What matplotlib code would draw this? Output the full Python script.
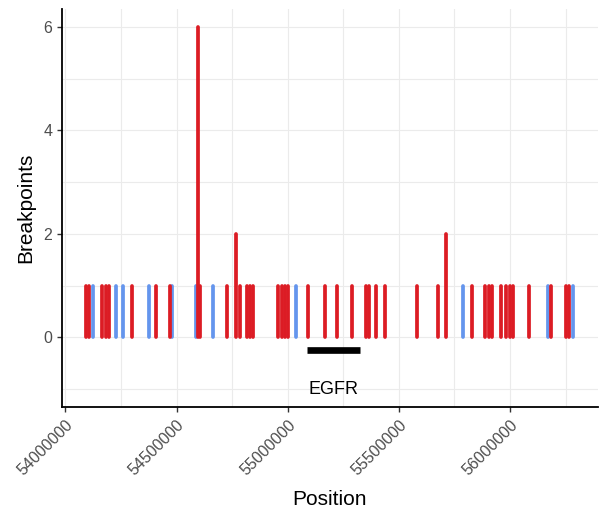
import matplotlib
matplotlib.use('Agg')
import matplotlib.pyplot as plt
from matplotlib.ticker import MultipleLocator

plt.rcParams['font.family'] = ['Liberation Sans', 'DejaVu Sans']

# breakpoint positions on chr7 and number of breakpoints at each
red_pos = [54094000, 54106000, 54163000, 54183000, 54197000, 54300000, 54408000,
           54471000, 54596000, 54607000, 54726000, 54767000, 54786000, 54816000,
           54831000, 54844000, 54957000, 54972000, 54987000, 55003000, 55093000,
           55167000, 55222000, 55288000, 55350000, 55366000, 55398000, 55438000,
           55583000, 55676000, 55712000, 55828000, 55888000, 55904000, 55921000,
           55960000, 55984000, 55998000, 56013000, 56087000, 56186000, 56254000,
           56266000]
red_n = [1, 1, 1, 1, 1, 1, 1,
         1, 6, 1, 1, 2, 1, 1,
         1, 1, 1, 1, 1, 1, 1,
         1, 1, 1, 1, 1, 1, 1,
         1, 1, 2, 1, 1, 1, 1,
         1, 1, 1, 1, 1, 1, 1,
         1]
blue_pos = [54123000, 54226000, 54260000, 54378000, 54478000, 54587000, 54665000,
            55039000, 55788000, 56173000, 56284000]
blue_n = [1, 1, 1, 1, 1, 1, 1, 1, 1, 1, 1]

gene_name = 'EGFR'
gene_start, gene_end = 55086725, 55324313

fig = plt.figure(figsize=(5.99, 5.2), dpi=100)
ax = fig.add_axes([0.1035, 0.217, 0.894, 0.766])

b = ax.vlines(blue_pos, 0, blue_n, colors='#6495ED', linewidth=2.7, zorder=3)
r = ax.vlines(red_pos, 0, red_n, colors='#DC1C24', linewidth=2.7, zorder=3)
for lc in (b, r):
    lc.set_capstyle('round')

# gene track
ax.hlines(-0.25, gene_start, gene_end, colors='black', linewidth=4.8, zorder=3)
ax.text((gene_start + gene_end) / 2, -1.0, gene_name, ha='center', va='center',
        fontsize=13, color='black')

ax.set_xlim(53984500, 56393500)
ax.set_ylim(-1.35, 6.35)
ax.xaxis.set_major_locator(MultipleLocator(500000))
ax.xaxis.set_minor_locator(MultipleLocator(250000))
ax.yaxis.set_major_locator(MultipleLocator(2))
ax.yaxis.set_minor_locator(MultipleLocator(1))
ax.ticklabel_format(style='plain', axis='x', useOffset=False)

ax.grid(which='both', color='#ebebeb', linewidth=0.8, zorder=0)
ax.set_axisbelow(True)
for s in ['top', 'right']:
    ax.spines[s].set_visible(False)
for s in ['left', 'bottom']:
    ax.spines[s].set_linewidth(1.3)
    ax.spines[s].set_color('black')

ax.tick_params(which='minor', length=0)
ax.tick_params(which='major', length=3.5, width=1, color='#333333',
               labelsize=11.5, labelcolor='#4d4d4d')
plt.setp(ax.get_xticklabels(), rotation=45, ha='right', rotation_mode='anchor')

ax.set_xlabel('Position', fontsize=15, labelpad=9)
ax.set_ylabel('Breakpoints', fontsize=15, labelpad=6)

fig.savefig('out.png', dpi=100)
